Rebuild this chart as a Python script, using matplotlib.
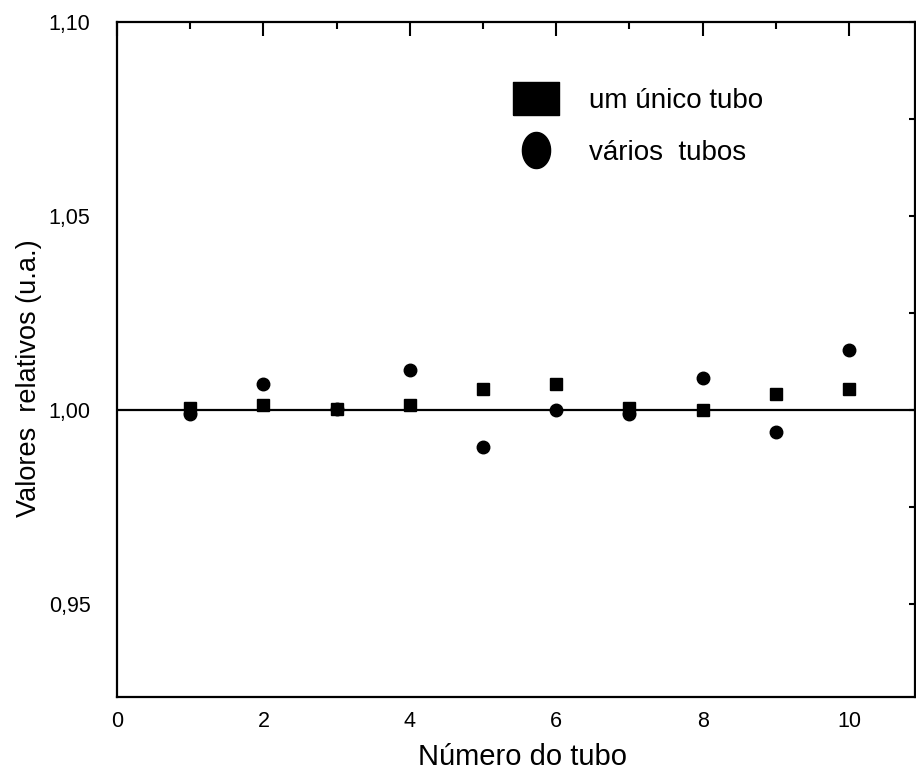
import matplotlib
matplotlib.use("Agg")
import matplotlib.pyplot as plt
import numpy as np
from matplotlib.lines import Line2D
from matplotlib.ticker import FuncFormatter, MultipleLocator

plt.rcParams['font.family'] = ['Liberation Sans', 'DejaVu Sans']

# data
tubo = [1, 2, 3, 4, 5, 6, 7, 8, 9, 10]
um_unico = [1.0005, 1.0012, 1.0002, 1.0013, 1.0054, 1.0067, 1.0005, 1.0000, 1.0041, 1.0054]
varios = [0.9990, 1.0067, 1.0003, 1.0103, 0.9905, 1.0000, 0.9990, 1.0082, 0.9943, 1.0155]

xticks = [0, 2, 4, 6, 8, 10]
yticks = [0.95, 1.00, 1.05, 1.10]

fig = plt.figure(figsize=(9.16, 7.7), dpi=100)
ax = fig.add_axes([0.1277, 0.0948, 0.8712, 0.8766])

ax.axhline(1.0, color='black', lw=1.6, zorder=1)
ax.plot(tubo, um_unico, 's', color='black', ms=8, zorder=2)
ax.plot(tubo, varios, 'o', color='black', ms=9, zorder=3)

ax.set_xlim(0, 10.9)
ax.set_ylim(0.926, 1.10)

# ticks: top and right inward, labels bottom and left
ax.set_xticks(xticks)
ax.xaxis.set_minor_locator(MultipleLocator(1))
ax.set_yticks(yticks)
ax.yaxis.set_minor_locator(MultipleLocator(0.025))
ax.yaxis.set_major_formatter(FuncFormatter(lambda v, p: f"{v:.2f}".replace('.', ',')))

ax.tick_params(axis='x', which='both', bottom=False, top=True, direction='in',
               labelbottom=True, labelsize=15.5, pad=10)
ax.tick_params(axis='x', which='major', length=10, width=1.5)
ax.tick_params(axis='x', which='minor', length=5, width=1.5)
ax.tick_params(axis='y', which='both', left=False, right=True, direction='in',
               labelleft=True, labelsize=15.5, pad=19, length=4, width=1.5)

for s in ax.spines.values():
    s.set_linewidth(1.6)

ax.set_xlabel('Número do tubo', fontsize=21)
ax.xaxis.set_label_coords(0.508, -0.068)
ax.set_ylabel('Valores  relativos (u.a.)', fontsize=19.5)
ax.yaxis.set_label_coords(-0.094, 0.473)

# legend with a wide block and a tall ellipse, like the original
rect = [(-1, -0.72), (1, -0.72), (1, 0.72), (-1, 0.72), (-1, -0.72)]
th = np.linspace(0, 2 * np.pi, 60)
ell = list(zip(0.78 * np.cos(th), np.sin(th)))
handles = [
    Line2D([], [], ls='none', marker=rect, color='black', ms=33),
    Line2D([], [], ls='none', marker=ell, color='black', ms=26),
]
ax.legend(handles, ['um único tubo', 'vários  tubos'], loc='upper left',
          bbox_to_anchor=(511 / 916, 1 - 88 / 770), bbox_transform=fig.transFigure,
          frameon=False, fontsize=20, handlelength=1.8, handletextpad=1.0,
          labelspacing=0.93, borderpad=0, borderaxespad=0)

fig.savefig('out.png', dpi=100)
